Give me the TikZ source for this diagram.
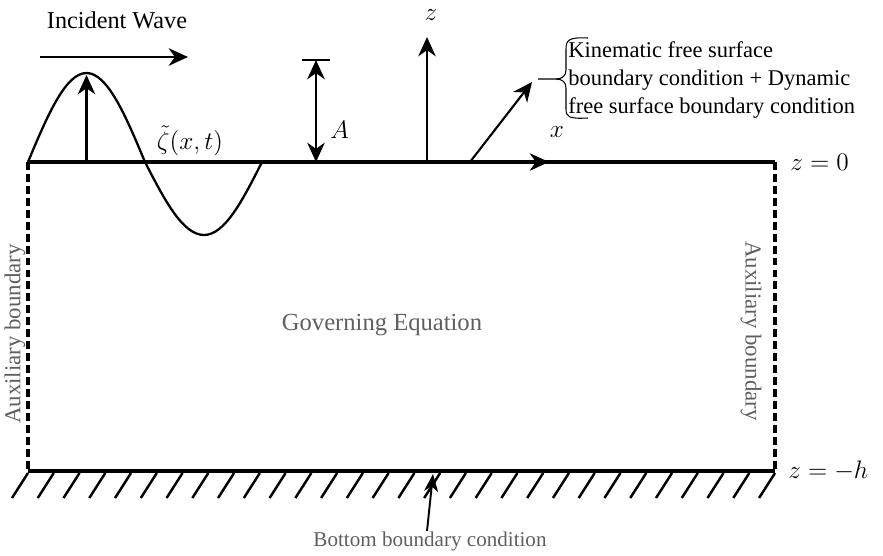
\documentclass[tikz,border=0pt]{standalone}
\usepackage{fontspec}
\setmainfont{Liberation Serif}
\usetikzlibrary{arrows.meta, positioning, calc}
\definecolor{labelgray}{RGB}{95,95,95}

\begin{document}
\begin{tikzpicture}[
    x=0.02cm, y=-0.02cm,
    surf/.style = {line width=1.9pt},
    aux/.style = {line width=1.8pt, dash pattern=on 4.5pt off 2.3pt},
    arr/.style = {-{Stealth[length=11pt,width=10pt,inset=3.5pt]}, line width=1.2pt},
    dimarr/.style = {{Stealth[length=11pt,width=10pt,inset=3.5pt]}-{Stealth[length=11pt,width=10pt,inset=3.5pt]}, line width=1.2pt},
    hatch/.style = {line width=1.4pt},
    txt/.style = {font=\fontsize{12.8}{15.9}\selectfont, inner sep=0pt},
    graytxt/.style = {font=\fontsize{13}{16}\selectfont, text=labelgray, inner sep=0pt},
    mathtxt/.style = {font=\fontsize{15}{18}\selectfont, inner sep=0pt},
  ]
    \useasboundingbox (0,0) rectangle (883,555);

    % Domain corners
    \coordinate (tl) at (28,162);
    \coordinate (tr) at (775,162);
    \coordinate (bl) at (28,471);
    \coordinate (br) at (775,471);

    % Free surface, bottom and auxiliary boundaries
    \draw[surf] (tl) -- (tr);
    \draw[surf] (bl) -- (br);
    \draw[aux] (tl) -- (bl);
    \draw[aux] (tr) -- (br);

    % Hatching under the bottom
    \foreach \i in {0,...,29}
      \draw[hatch] ($(bl)+(\i*25.76,2)$) -- ++(-16,25);

    % Incident wave
    \draw[line width=1.3pt] (tl) sin (86.5,73) cos (145,162) sin (204,235) cos (262,162);
    \coordinate (crestbase) at (86.5,162);
    \coordinate (crest) at (86.5,75);
    \draw[arr] (crestbase) -- (crest);
    \node[mathtxt] (zeta) at (190,141) {$\tilde{\zeta}(x,t)$};

    \node[txt, font=\fontsize{13.8}{16}\selectfont] (incident) at (117,20) {Incident Wave};
    \coordinate (iwstart) at (40,57);
    \coordinate (iwend) at (188,57);
    \draw[arr] (iwstart) -- (iwend);

    % Amplitude
    \coordinate (atop) at (316,60);
    \coordinate (abot) at (316,162);
    \draw[line width=1.2pt] ($(atop)+(-14,0)$) -- ($(atop)+(14,0)$);
    \draw[dimarr] (atop) -- (abot);
    \node[mathtxt, right=8pt of $(atop)!0.68!(abot)$] (amp) {$A$};

    % Axes
    \coordinate (origin) at (427,162);
    \coordinate (zend) at (427,37);
    \coordinate (xend) at (549,162);
    \draw[arr] (origin) -- (zend);
    \draw[arr] (origin) -- (xend);
    \node[mathtxt] (zlab) at (431,15) {$z$};
    \node[mathtxt] (xlab) at (557,132) {$x$};
    \node[mathtxt, anchor=west] (z0) at (790,162) {$z=0$};
    \node[mathtxt, anchor=west] (zh) at (788,471) {$z=-h$};

    % Free surface boundary condition
    \coordinate (fsfoot) at (470,162);
    \coordinate (fshead) at (532,82);
    \draw[arr] (fsfoot) -- (fshead);
    \coordinate (bracetip) at (538,79);
    \draw[line width=0.6pt] (588,38) .. controls (569,37) and (566,40) .. (566,49) -- (566,70)
      .. controls (566,76) and (562,79) .. (556,79) -- (bracetip);
    \draw[line width=0.6pt] (556,79) .. controls (562,79) and (566,82) .. (566,88) -- (566,109)
      .. controls (566,117) and (569,119) .. (588,118);
    \node[txt, anchor=west, align=left] (fsbc) at (568,80)
      {Kinematic free surface\\boundary condition + Dynamic\\free surface boundary condition};

    % Labels inside the domain
    \node[graytxt, font=\fontsize{14}{16}\selectfont] (gov) at (382,325) {Governing Equation};
    \node[graytxt] (auxl) at (15,334) [rotate=90] {Auxiliary boundary};
    \node[graytxt] (auxr) at (751,331) [rotate=-90] {Auxiliary boundary};

    % Bottom boundary condition
    \node[graytxt, font=\fontsize{12}{14}\selectfont] (bbc) at (430,541) {Bottom boundary condition};
    \coordinate (bbchead) at (433,474);
    \draw[-{Stealth[length=10pt,width=8pt,inset=3pt]}, line width=1.1pt] (bbc.north -| 427,0) -- (bbchead);
  \end{tikzpicture}
\end{document}
